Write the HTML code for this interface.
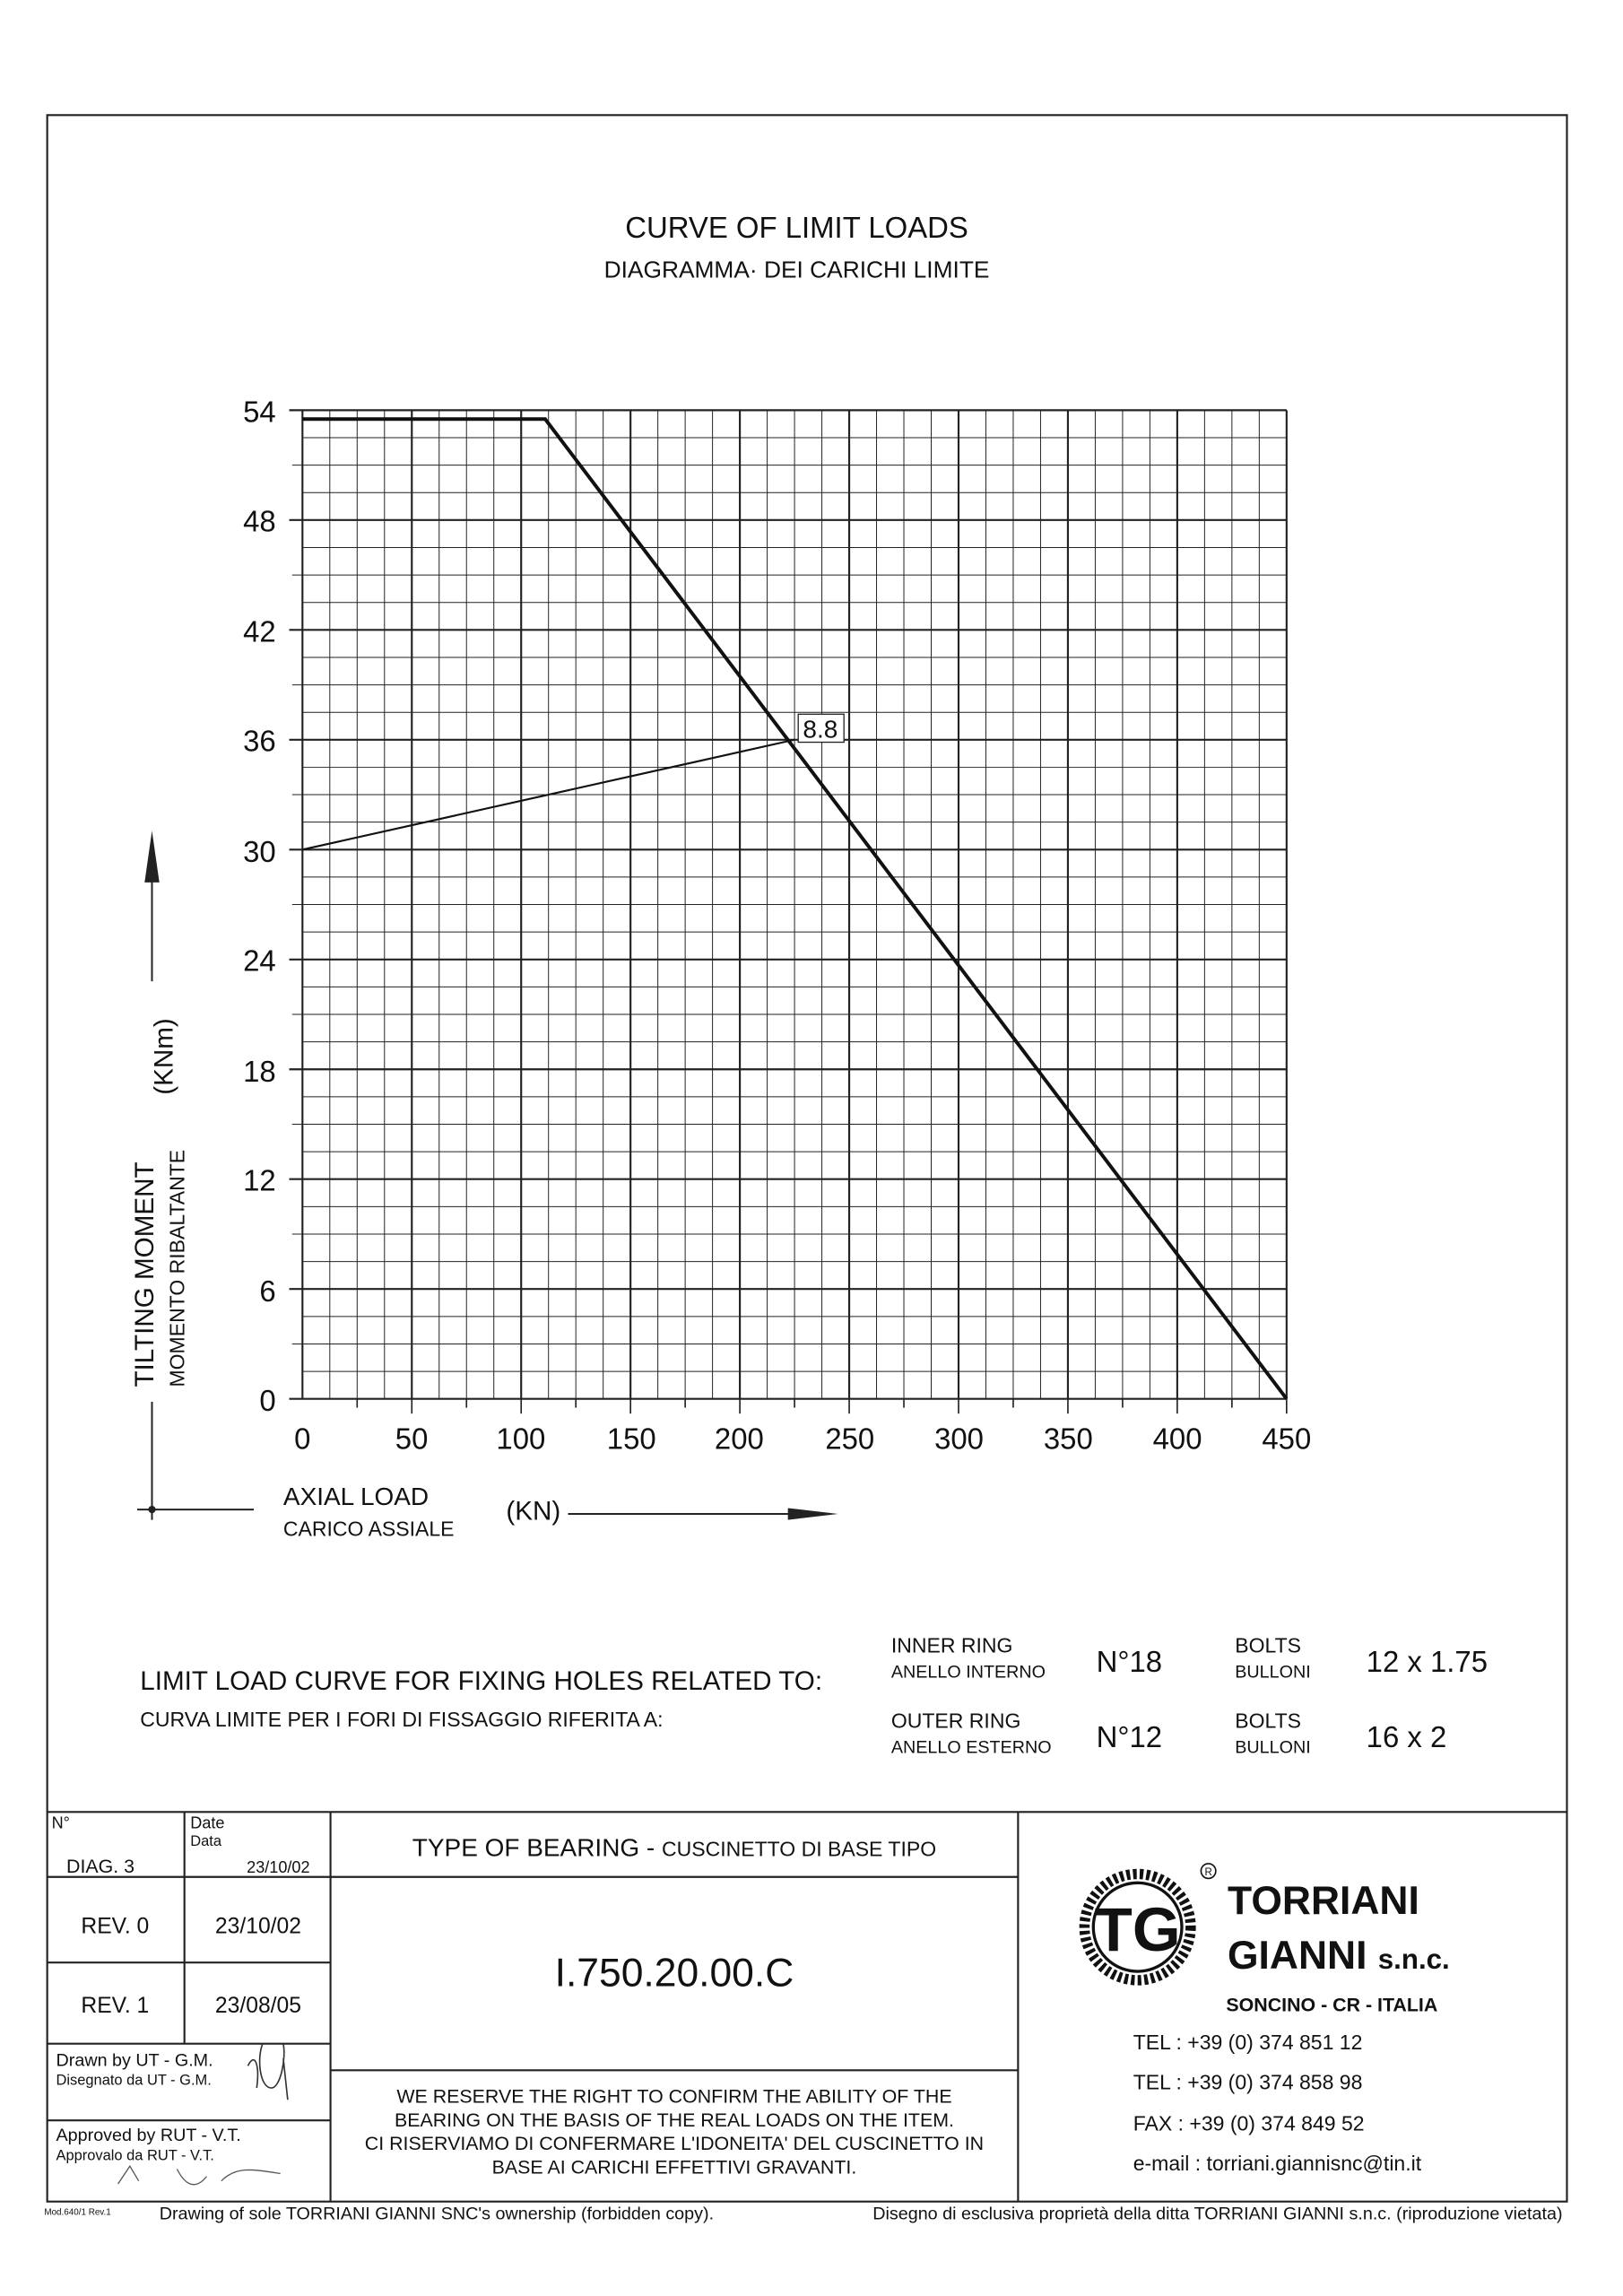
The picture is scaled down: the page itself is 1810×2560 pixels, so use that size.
<!DOCTYPE html>
<html><head><meta charset="utf-8"><style>
html,body{margin:0;padding:0;background:#fff}
svg{display:block}
text{font-family:"Liberation Sans",sans-serif;fill:#111}
</style></head><body>
<svg width="1810" height="2560" viewBox="0 0 1100 1556" preserveAspectRatio="none" xmlns="http://www.w3.org/2000/svg">
<rect x="32" y="78" width="1030" height="1414" fill="none" stroke="#222" stroke-width="1.3"/>
<text x="540" y="161" font-size="20" text-anchor="middle">CURVE OF LIMIT LOADS</text>
<text x="540" y="188" font-size="16" text-anchor="middle">DIAGRAMMA· DEI CARICHI LIMITE</text>
<g id="grid" stroke="#222"></g>
<script>
(function(){
var g=document.getElementById('grid'),ns='http://www.w3.org/2000/svg';
function L(x1,y1,x2,y2,w){var l=document.createElementNS(ns,'line');l.setAttribute('x1',x1);l.setAttribute('y1',y1);l.setAttribute('x2',x2);l.setAttribute('y2',y2);l.setAttribute('stroke-width',w);g.appendChild(l);}
for(var i=0;i<=36;i++){var x=205+i*(667/36);var m=i%4==0;L(x,278,x,948,m?1.3:0.6);if(i%2==0&&i>0)L(x,948,x,m?958:954,1);}
for(var j=0;j<=36;j++){var y=278+j*(670/36);var m=j%4==0;L(m?196:(j%2==0?198:205),y,872,y,m?1.3:0.6);}
})();
</script>
<!-- curves -->
<polyline points="205,284 369.5,284 872,948" fill="none" stroke="#111" stroke-width="2.4"/>
<line x1="205" y1="575.8" x2="538.5" y2="501.3" stroke="#111" stroke-width="1.3"/>
<rect x="541" y="484" width="31" height="19" fill="#fff" stroke="#222" stroke-width="0.8"/>
<text x="556" y="500" font-size="17" text-anchor="middle">8.8</text>
<!-- y labels -->
<g font-size="20" text-anchor="end">
<text x="187" y="286">54</text><text x="187" y="360">48</text><text x="187" y="435">42</text>
<text x="187" y="509">36</text><text x="187" y="584">30</text><text x="187" y="658">24</text>
<text x="187" y="733">18</text><text x="187" y="807">12</text><text x="187" y="882">6</text>
<text x="187" y="956">0</text>
</g>
<g font-size="20" text-anchor="middle">
<text x="205" y="982">0</text><text x="279" y="982">50</text><text x="353" y="982">100</text>
<text x="428" y="982">150</text><text x="501" y="982">200</text><text x="576" y="982">250</text>
<text x="650" y="982">300</text><text x="724" y="982">350</text><text x="798" y="982">400</text>
<text x="872" y="982">450</text>
</g>
<!-- axis titles -->
<text transform="translate(104,940) rotate(-90)" font-size="18">TILTING MOMENT</text>
<text transform="translate(125,940) rotate(-90)" font-size="14">MOMENTO RIBALTANTE</text>
<text transform="translate(117,742) rotate(-90)" font-size="18">(KNm)</text>
<line x1="103" y1="950" x2="103" y2="1030" stroke="#222" stroke-width="1.2"/>
<line x1="103" y1="595" x2="103" y2="665" stroke="#222" stroke-width="1.2"/>
<polygon points="103,563 98,598 108,598" fill="#222"/>
<line x1="93" y1="1023" x2="172" y2="1023" stroke="#222" stroke-width="1.2"/>
<circle cx="103" cy="1023" r="2.5" fill="#222"/>
<text x="192" y="1020" font-size="17">AXIAL LOAD</text>
<text x="192" y="1041" font-size="14">CARICO ASSIALE</text>
<text x="343" y="1030" font-size="18">(KN)</text>
<line x1="385" y1="1026" x2="540" y2="1026" stroke="#222" stroke-width="1.2"/>
<polygon points="568,1026 534,1022 534,1030" fill="#222"/>
<!-- bolts -->
<text x="95" y="1145" font-size="18">LIMIT LOAD CURVE FOR FIXING HOLES RELATED TO:</text>
<text x="95" y="1170" font-size="14">CURVA LIMITE PER I FORI DI FISSAGGIO RIFERITA A:</text>
<text x="604" y="1120" font-size="14">INNER RING</text><text x="604" y="1137" font-size="12">ANELLO INTERNO</text>
<text x="743" y="1133" font-size="20">N°18</text>
<text x="837" y="1120" font-size="14">BOLTS</text><text x="837" y="1137" font-size="12">BULLONI</text>
<text x="926" y="1133" font-size="20">12 x 1.75</text>
<text x="604" y="1171" font-size="14">OUTER RING</text><text x="604" y="1188" font-size="12">ANELLO ESTERNO</text>
<text x="743" y="1184" font-size="20">N°12</text>
<text x="837" y="1171" font-size="14">BOLTS</text><text x="837" y="1188" font-size="12">BULLONI</text>
<text x="926" y="1184" font-size="20">16 x 2</text>
<!-- title block -->
<g stroke="#222" stroke-width="1.3" fill="none">
<line x1="32" y1="1228" x2="1062" y2="1228"/>
<line x1="125" y1="1228" x2="125" y2="1385"/>
<line x1="224" y1="1228" x2="224" y2="1492"/>
<line x1="690" y1="1228" x2="690" y2="1492"/>
<line x1="32" y1="1272" x2="224" y2="1272"/>
<line x1="32" y1="1330" x2="224" y2="1330"/>
<line x1="32" y1="1385" x2="224" y2="1385"/>
<line x1="32" y1="1437" x2="224" y2="1437"/>
<line x1="224" y1="1272" x2="690" y2="1272"/>
<line x1="224" y1="1403" x2="690" y2="1403"/>
</g>
<text x="35" y="1239" font-size="11">N°</text>
<text x="129" y="1239" font-size="11">Date</text><text x="129" y="1251" font-size="10">Data</text>
<text x="45" y="1269" font-size="13">DIAG. 3</text>
<text x="210" y="1269" font-size="11" text-anchor="end">23/10/02</text>
<text x="78" y="1310" font-size="15" text-anchor="middle">REV. 0</text>
<text x="175" y="1310" font-size="15" text-anchor="middle">23/10/02</text>
<text x="78" y="1364" font-size="15" text-anchor="middle">REV. 1</text>
<text x="175" y="1364" font-size="15" text-anchor="middle">23/08/05</text>
<text x="38" y="1400" font-size="12">Drawn by UT - G.M.</text>
<text x="38" y="1413" font-size="10">Disegnato da UT - G.M.</text>
<text x="38" y="1451" font-size="12">Approved by RUT - V.T.</text>
<text x="38" y="1464" font-size="10">Approvalo da RUT - V.T.</text>
<path d="M168,1400 c5,-10 8,0 6,15 M178,1385 c-4,10 -2,30 6,30 c6,0 10,-20 8,-30 M192,1395 l3,28" stroke="#333" fill="none" stroke-width="1"/>
<path d="M80,1480 l8,-12 l6,10 M120,1470 c5,10 12,15 20,5 M150,1478 c10,-10 20,-8 40,-5" stroke="#555" fill="none" stroke-width="0.8"/>
<text x="457" y="1258" font-size="17" text-anchor="middle">TYPE OF BEARING  -  <tspan font-size="14">CUSCINETTO DI BASE TIPO</tspan></text>
<text x="457" y="1346" font-size="27" text-anchor="middle">I.750.20.00.C</text>
<g font-size="13" text-anchor="middle">
<text x="457" y="1425">WE RESERVE THE RIGHT TO CONFIRM THE ABILITY OF THE</text>
<text x="457" y="1441">BEARING ON THE BASIS OF THE REAL LOADS ON THE ITEM.</text>
<text x="457" y="1457">CI RISERVIAMO DI CONFERMARE L'IDONEITA' DEL CUSCINETTO IN</text>
<text x="457" y="1473">BASE AI CARICHI EFFETTIVI GRAVANTI.</text>
</g>
<!-- logo -->
<circle cx="771" cy="1306" r="36" fill="none" stroke="#111" stroke-width="7" stroke-dasharray="2.5 2"/>
<circle cx="771" cy="1306" r="30" fill="none" stroke="#111" stroke-width="2"/>
<text x="771" y="1322" font-size="42" font-weight="bold" text-anchor="middle" font-family="Liberation Serif">TG</text>
<circle cx="819" cy="1268" r="5" fill="none" stroke="#111" stroke-width="1"/>
<text x="819" y="1271" font-size="7" text-anchor="middle">R</text>
<text x="832" y="1297" font-size="27" font-weight="bold">TORRIANI</text>
<text x="832" y="1334" font-size="27" font-weight="bold">GIANNI <tspan font-size="19">s.n.c.</tspan></text>
<text x="831" y="1363" font-size="13" font-weight="bold">SONCINO - CR - ITALIA</text>
<g font-size="14">
<text x="768" y="1389">TEL : +39 (0) 374 851 12</text>
<text x="768" y="1416">TEL : +39 (0) 374 858 98</text>
<text x="768" y="1444">FAX : +39 (0) 374 849 52</text>
<text x="768" y="1471">e-mail : torriani.giannisnc@tin.it</text>
</g>
<text x="30" y="1501" font-size="6">Mod.640/1 Rev.1</text>
<text x="108" y="1504" font-size="12">Drawing of sole TORRIANI GIANNI SNC's ownership (forbidden copy).</text>
<text x="1059" y="1504" font-size="12" text-anchor="end">Disegno di esclusiva proprietà della ditta TORRIANI GIANNI s.n.c. (riproduzione vietata)</text>
</svg>
</body></html>
